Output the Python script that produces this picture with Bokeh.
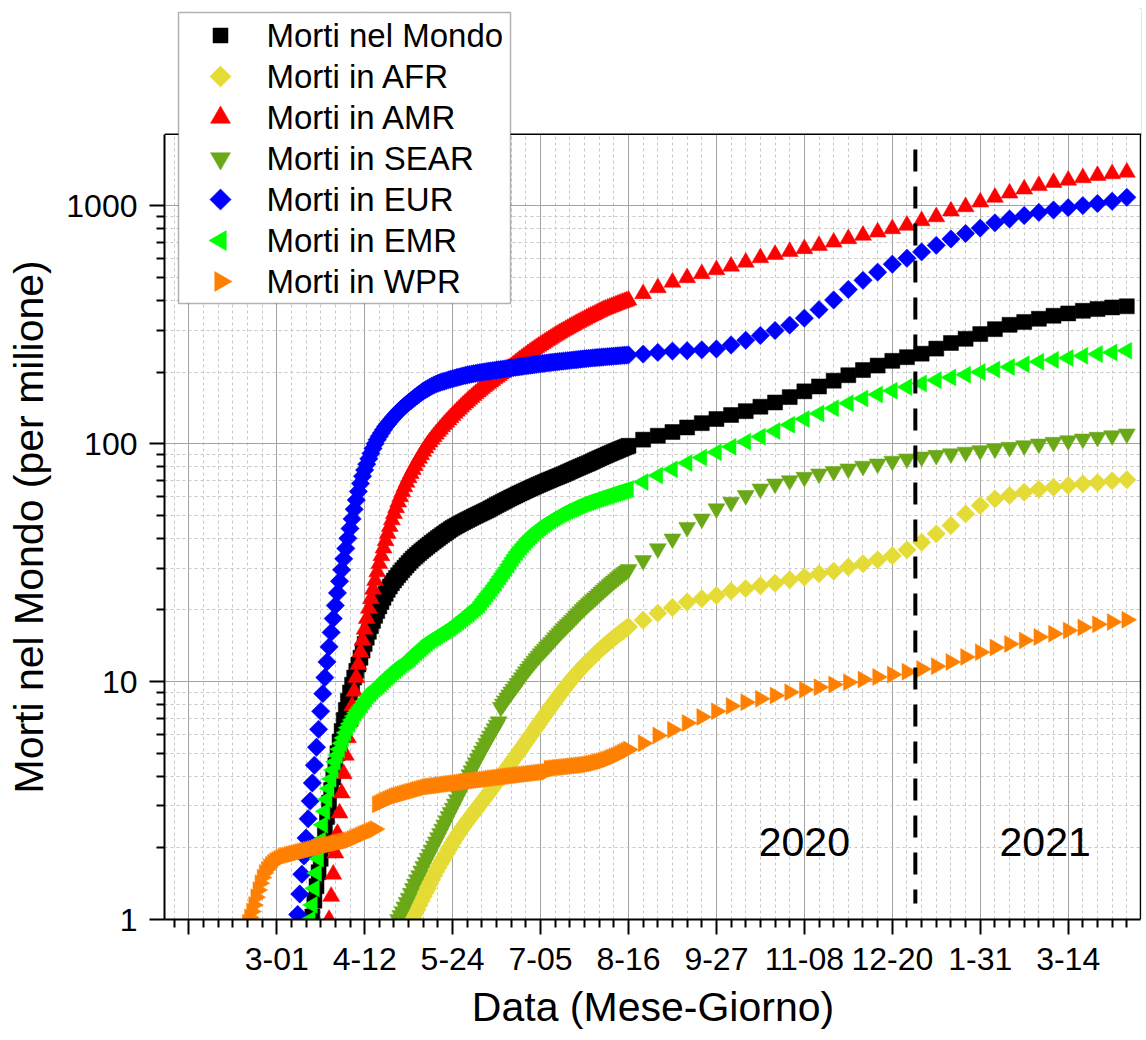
import numpy as np
import pandas as pd
from bokeh.plotting import figure
from bokeh.models import (ColumnDataSource, Range1d, FixedTicker, Label, Span,
                          BoxAnnotation, Title, LogAxis)
from bokeh.embed import file_html
from bokeh.resources import INLINE

EPOCH = "2020-01-01"

# ---- daily values (deaths per million), one per day, until 2020-08-16 ----
WORLD_DAILY_START = "2020-03-17"
WORLD_DAILY = [
    0.92, 1.03, 1.2, 1.38, 1.58, 1.8, 2.05, 2.35, 2.7, 3.1,
    3.5, 3.95, 4.45, 5.0, 5.6, 6.2, 6.9, 7.6, 8.3, 9.0,
    9.7, 10.4, 11.1, 11.8, 12.6, 13.5, 14.4, 15.3, 16.2, 17.1,
    18.0, 18.9, 19.8, 20.7, 21.6, 22.5, 23.4, 24.3, 25.1, 25.9,
    26.6, 27.3, 28.0, 28.7, 29.4, 30.1, 30.8, 31.5, 32.2, 32.9,
    33.5, 34.1, 34.7, 35.3, 35.9, 36.5, 37.1, 37.7, 38.3, 38.9,
    39.5, 40.1, 40.7, 41.3, 41.9, 42.5, 43.1, 43.7, 44.3, 44.8,
    45.3, 45.8, 46.3, 46.8, 47.3, 47.8, 48.3, 48.8, 49.3, 49.8,
    50.3, 50.8, 51.3, 51.8, 52.3, 52.8, 53.4, 54.0, 54.6, 55.2,
    55.8, 56.4, 57.0, 57.6, 58.2, 58.8, 59.4, 60.0, 60.6, 61.2,
    61.8, 62.4, 63.0, 63.6, 64.2, 64.8, 65.4, 66.0, 66.6, 67.2,
    67.8, 68.4, 69.0, 69.6, 70.2, 70.8, 71.4, 72.0, 72.6, 73.2,
    73.8, 74.4, 75.1, 75.8, 76.5, 77.2, 77.9, 78.6, 79.3, 80.0,
    80.7, 81.4, 82.1, 82.8, 83.6, 84.4, 85.2, 86.0, 86.8, 87.6,
    88.4, 89.2, 90.0, 90.8, 91.6, 92.4, 93.2, 94.0, 94.8, 95.6,
    96.4, 97.2, 98.0]

AFR_DAILY_START = "2020-05-02"
AFR_DAILY = [
    0.9, 0.94, 0.98, 1.02, 1.06, 1.1, 1.15, 1.2, 1.25, 1.3,
    1.35, 1.41, 1.47, 1.53, 1.59, 1.65, 1.71, 1.77, 1.83, 1.89,
    1.96, 2.03, 2.1, 2.17, 2.24, 2.31, 2.38, 2.45, 2.52, 2.59,
    2.66, 2.73, 2.8, 2.88, 2.96, 3.04, 3.12, 3.2, 3.29, 3.38,
    3.47, 3.57, 3.67, 3.77, 3.88, 3.99, 4.1, 4.21, 4.33, 4.45,
    4.57, 4.7, 4.83, 4.97, 5.11, 5.26, 5.41, 5.57, 5.73, 5.9,
    6.07, 6.25, 6.43, 6.62, 6.81, 7.01, 7.21, 7.42, 7.63, 7.85,
    8.07, 8.3, 8.53, 8.77, 9.01, 9.25, 9.5, 9.75, 10.0, 10.25,
    10.5, 10.75, 11.0, 11.25, 11.5, 11.75, 12.0, 12.25, 12.5, 12.75,
    13.0, 13.25, 13.5, 13.75, 14.0, 14.25, 14.5, 14.75, 15.0, 15.25,
    15.5, 15.75, 16.0, 16.25, 16.5, 16.75, 17.0]

AMR_DAILY_START = "2020-03-25"
AMR_DAILY = [
    0.82, 1.0, 1.25, 1.55, 1.9, 2.3, 2.8, 3.4, 4.1, 4.9,
    5.8, 6.8, 7.9, 9.1, 10.4, 11.8, 13.3, 14.9, 16.6, 18.4,
    20.3, 22.3, 24.4, 26.6, 28.9, 31.3, 33.8, 36.4, 39.1, 41.9,
    44.8, 47.8, 50.8, 53.8, 56.8, 59.8, 62.8, 65.8, 68.8, 71.8,
    74.8, 77.8, 80.8, 83.8, 86.8, 89.8, 92.8, 95.8, 98.8, 101.5,
    104.2, 106.9, 109.6, 112.3, 115.0, 117.7, 120.4, 123.1, 125.8, 128.5,
    131.2, 134.0, 136.8, 139.6, 142.4, 145.2, 148.0, 150.8, 153.6, 156.4,
    159.2, 162.0, 164.8, 167.6, 170.4, 173.2, 176.0, 178.8, 181.6, 184.4,
    187.2, 190.0, 193.0, 196.0, 199.0, 202.0, 205.0, 208.0, 211.0, 214.5,
    218.0, 221.5, 225.0, 228.5, 232.0, 235.5, 239.0, 242.5, 246.0, 249.5,
    253.0, 256.5, 260.0, 263.5, 267.0, 270.5, 274.0, 277.5, 281.0, 284.5,
    288.0, 291.5, 295.0, 298.5, 302.0, 305.5, 309.0, 312.5, 316.0, 319.5,
    323.0, 326.5, 330.0, 333.5, 337.0, 340.5, 344.0, 347.5, 351.0, 354.5,
    358.0, 361.5, 365.0, 368.0, 371.0, 374.0, 377.0, 380.0, 383.0, 386.0,
    389.0, 392.0, 395.0, 398.0, 401.0]

SEAR_DAILY_START = "2020-04-26"
SEAR_DAILY = [
    0.85, 0.92, 1.0, 1.04, 1.08, 1.13, 1.18, 1.23, 1.29, 1.35,
    1.41, 1.47, 1.53, 1.6, 1.67, 1.74, 1.81, 1.88, 1.96, 2.04,
    2.12, 2.21, 2.3, 2.4, 2.5, 2.6, 2.71, 2.82, 2.94, 3.06,
    3.19, 3.32, 3.46, 3.6, 3.75, 3.9, 4.06, 4.22, 4.39, 4.56,
    4.74, 4.92, 5.11, 5.3, 5.5, 5.7, 5.91, 6.12, 6.34, 6.56,
    6.78, 7.8, 8.05, 8.3, 8.55, 8.8, 9.05, 9.3, 9.56, 9.82,
    10.1, 10.4, 10.7, 11.0, 11.3, 11.6, 11.9, 12.2, 12.5, 12.8,
    13.1, 13.4, 13.7, 14.0, 14.3, 14.6, 14.95, 15.3, 15.65, 16.0,
    16.35, 16.7, 17.05, 17.4, 17.75, 18.1, 18.5, 18.9, 19.3, 19.7,
    20.1, 20.5, 20.9, 21.3, 21.7, 22.1, 22.5, 22.9, 23.35, 23.8,
    24.25, 24.7, 25.15, 25.6, 26.05, 26.5, 26.95, 27.4, 27.85, 28.3,
    28.75, 29.2, 29.65]

EUR_DAILY_START = "2020-03-10"
EUR_DAILY = [
    0.85, 1.05, 1.28, 1.55, 1.85, 2.2, 2.65, 3.15, 3.75, 4.45,
    5.3, 6.3, 7.5, 8.9, 10.4, 12.1, 14.0, 16.1, 18.4, 20.9,
    23.6, 26.4, 29.5, 32.8, 36.3, 40.0, 44.0, 48.3, 53.0, 58.0,
    63.0, 68.0, 73.0, 77.5, 82.0, 86.5, 91.0, 95.5, 100.0, 104.0,
    107.5, 111.0, 114.5, 118.0, 121.0, 124.0, 127.0, 130.0, 133.0, 136.0,
    139.0, 141.5, 144.0, 146.5, 149.0, 151.5, 154.0, 156.5, 159.0, 161.5,
    164.0, 166.5, 168.5, 170.5, 172.5, 174.5, 176.3, 178.0, 179.5, 180.8,
    182.0, 183.0, 184.2, 185.4, 186.5, 187.6, 188.7, 189.7, 190.7, 191.7,
    192.7, 193.6, 194.5, 195.3, 196.1, 196.9, 197.6, 198.3, 199.0, 199.7,
    200.4, 201.0, 201.6, 202.2, 202.8, 203.4, 204.0, 204.6, 205.2, 205.8,
    206.4, 207.0, 207.6, 208.2, 208.8, 209.4, 210.0, 210.6, 211.2, 211.8,
    212.4, 213.0, 213.6, 214.2, 214.8, 215.4, 216.0, 216.6, 217.2, 217.8,
    218.4, 219.0, 219.5, 220.0, 220.5, 221.0, 221.5, 222.0, 222.5, 223.0,
    223.5, 224.0, 224.5, 225.0, 225.5, 226.0, 226.5, 227.0, 227.5, 228.0,
    228.5, 229.0, 229.4, 229.8, 230.2, 230.6, 231.0, 231.4, 231.8, 232.2,
    232.6, 233.0, 233.4, 233.8, 234.2, 234.6, 235.0, 235.4, 235.8, 236.2]

EMR_DAILY_START = "2020-03-17"
EMR_DAILY = [
    1.0, 1.15, 1.35, 1.57, 1.8, 2.15, 2.5, 2.85, 3.2, 3.55,
    3.9, 4.25, 4.6, 4.9, 5.2, 5.5, 5.8, 6.1, 6.4, 6.65,
    6.9, 7.15, 7.4, 7.6, 7.8, 8.0, 8.25, 8.45, 8.7, 8.9,
    9.1, 9.3, 9.45, 9.6, 9.8, 10.0, 10.2, 10.4, 10.6, 10.8,
    11.0, 11.2, 11.4, 11.6, 11.8, 12.0, 12.15, 12.3, 12.5, 12.75,
    13.0, 13.25, 13.5, 13.75, 14.0, 14.25, 14.5, 14.8, 15.0, 15.2,
    15.4, 15.6, 15.8, 16.0, 16.2, 16.4, 16.6, 16.8, 17.05, 17.3,
    17.5, 17.8, 18.1, 18.4, 18.7, 19.0, 19.3, 19.65, 20.0, 20.35,
    20.7, 21.0, 21.6, 22.2, 22.8, 23.4, 24.0, 24.6, 25.3, 26.0,
    26.8, 27.6, 28.4, 29.2, 30.0, 31.0, 32.0, 33.0, 34.0, 35.0,
    35.9, 36.8, 37.7, 38.6, 39.5, 40.3, 41.1, 41.9, 42.7, 43.5,
    44.2, 44.9, 45.6, 46.3, 47.0, 47.6, 48.2, 48.8, 49.4, 50.0,
    50.6, 51.1, 51.6, 52.1, 52.6, 53.1, 53.6, 54.1, 54.6, 55.1,
    55.5, 55.9, 56.3, 56.7, 57.1, 57.5, 57.9, 58.3, 58.7, 59.1,
    59.5, 59.9, 60.3, 60.7, 61.1, 61.5, 61.9, 62.3, 62.7, 63.1,
    63.5, 63.9, 64.3]

WPR_DAILY_START = "2020-02-16"
WPR_DAILY = [
    0.97, 1.02, 1.08, 1.15, 1.24, 1.33, 1.42, 1.5, 1.57, 1.62,
    1.66, 1.7, 1.73, 1.76, 1.78, 1.8, 1.82, 1.84, 1.85, 1.86,
    1.87, 1.88, 1.89, 1.9, 1.91, 1.92, 1.93, 1.94, 1.95, 1.96,
    1.97, 1.98, 1.99, 2.0, 2.01, 2.02, 2.03, 2.04, 2.05, 2.06,
    2.07, 2.08, 2.09, 2.1, 2.11, 2.12, 2.13, 2.14, 2.15, 2.16,
    2.18, 2.2, 2.22, 2.24, 2.26, 2.28, 2.3, 2.32, 2.34, 2.36,
    2.38, 2.4, 3.05, 3.08, 3.11, 3.14, 3.17, 3.2, 3.23, 3.26,
    3.29, 3.31, 3.33, 3.35, 3.37, 3.39, 3.41, 3.43, 3.45, 3.47,
    3.49, 3.51, 3.53, 3.55, 3.57, 3.59, 3.61, 3.62, 3.63, 3.64,
    3.65, 3.66, 3.67, 3.68, 3.69, 3.7, 3.71, 3.72, 3.73, 3.74,
    3.75, 3.76, 3.77, 3.78, 3.79, 3.8, 3.81, 3.82, 3.83, 3.84,
    3.85, 3.86, 3.87, 3.88, 3.89, 3.9, 3.91, 3.92, 3.93, 3.94,
    3.95, 3.96, 3.97, 3.98, 3.99, 4.0, 4.01, 4.02, 4.03, 4.04,
    4.05, 4.06, 4.07, 4.08, 4.09, 4.1, 4.11, 4.12, 4.13, 4.14,
    4.15, 4.16, 4.17, 4.18, 4.3, 4.31, 4.32, 4.33, 4.34, 4.35,
    4.36, 4.37, 4.38, 4.39, 4.4, 4.41, 4.42, 4.43, 4.44, 4.45,
    4.46, 4.47, 4.48, 4.5, 4.52, 4.54, 4.56, 4.58, 4.6, 4.63,
    4.66, 4.69, 4.72, 4.76, 4.8, 4.84, 4.88, 4.93, 4.98, 5.03,
    5.08, 5.13, 5.18]

# ---- weekly values from 2020-08-23 to 2021-04-11 ----
WEEKLY_START = "2020-08-23"
WORLD_WEEKLY = [104, 108, 112, 117, 122, 127, 132, 137, 143, 149, 157, 166, 174, 184,
                194, 204, 213, 223, 231, 239, 251, 265, 276, 289, 303, 316, 325, 335,
                345, 353, 362, 368, 374, 378]
AFR_WEEKLY = [18.1, 19.4, 20.5, 21.6, 22.3, 23.0, 24.0, 24.6, 25.3, 25.9, 26.8, 27.5,
              28.4, 29.1, 30.3, 31.3, 32.5, 33.8, 35.8, 38.5, 41.8, 45.3, 50.7, 55.0,
              58.6, 60.6, 62.5, 64.3, 65.6, 66.7, 67.8, 68.5, 69.8, 70.5]
AMR_WEEKLY = [427, 452, 477, 498, 518, 538, 557, 579, 604, 624, 642, 660, 681, 703,
              727, 751, 775, 800, 827, 865, 898, 950, 990, 1036, 1085, 1130, 1175,
              1215, 1252, 1280, 1310, 1340, 1362, 1384]
SEAR_WEEKLY = [32.3, 36.2, 39.8, 44.5, 48.3, 53.3, 56.8, 60.6, 64.6, 67.8, 70.0, 72.3,
               74.7, 76.5, 78.4, 80.5, 82.3, 84.5, 86.4, 88.0, 89.4, 90.8, 92.2, 93.6,
               95.1, 96.6, 98.2, 99.8, 101.4, 103.0, 104.8, 106.5, 108.2, 110.0]
EUR_WEEKLY = [238, 242, 245, 246, 248, 250, 260, 272, 285, 299, 315, 337, 366, 402,
              445, 486, 526, 568, 602, 640, 682, 725, 765, 806, 848, 880, 910, 938,
              960, 982, 1002, 1022, 1045, 1085]
EMR_WEEKLY = [69, 73.5, 78, 83, 87.5, 92, 97, 102, 107, 113, 120, 127, 134, 141, 148,
              155, 161, 167, 173, 179, 185, 190, 195, 200, 205, 210, 216, 221, 225,
              229, 234, 238, 242, 246]
WPR_WEEKLY = [5.5, 5.93, 6.27, 6.7, 7.1, 7.5, 7.9, 8.19, 8.47, 8.74, 9.03, 9.24, 9.47,
              9.72, 9.94, 10.2, 10.45, 10.7, 11.0, 11.3, 11.6, 12.1, 12.7, 13.3, 13.9,
              14.4, 14.9, 15.4, 15.9, 16.4, 16.9, 17.4, 17.8, 18.2]

SERIES_NAMES = ["Morti nel Mondo", "Morti in AFR", "Morti in AMR", "Morti in SEAR",
                "Morti in EUR", "Morti in EMR", "Morti in WPR"]

X_TICK_DATES = ["2020-01-19", "2020-03-01", "2020-04-12", "2020-05-24", "2020-07-05",
                "2020-08-16", "2020-09-27", "2020-11-08", "2020-12-20", "2021-01-31",
                "2021-03-14"]
X_TICK_LABELS = ["", "3-01", "4-12", "5-24", "7-05", "8-16", "9-27", "11-08", "12-20",
                 "1-31", "3-14"]
Y_TICKS = [1, 10, 100, 1000]
Y_TICK_LABELS = ["1", "10", "100", "1000"]
Y_TOP = 2000

X_LABEL = "Data (Mese-Giorno)"
Y_LABEL = "Morti nel Mondo (per milione)"

YEAR_SPLIT_DATE = "2020-12-31"
YEAR_LABELS = ["2020", "2021"]
YEAR_LABEL_DATES = ["2020-11-08", "2021-03-03"]
YEAR_LABEL_VALUE = 2.11


def day(s):
    return (pd.Timestamp(s) - pd.Timestamp(EPOCH)).days


# ---- page layout (pixels) ----
FONT = "Liberation Sans"
FIG_W, FIG_H = 1146, 1040
FRAME_LEFT, FRAME_RIGHT, FRAME_TOP, FRAME_BOTTOM = 164, 1141, 8, 919
PLOT_RIGHT = 1140
PX_PER_DAY = 2.0938
PX_PER_DECADE = 237.9
X_START = 6.4


def xd(px):
    return X_START + (px - FRAME_LEFT) / PX_PER_DAY


def yd(py):
    return 10 ** ((FRAME_BOTTOM - py) / PX_PER_DECADE)


X_END = xd(PLOT_RIGHT)

p = figure(width=FIG_W, height=FIG_H, y_axis_type="log",
           x_range=Range1d(X_START, xd(FRAME_RIGHT)), y_range=Range1d(1, yd(FRAME_TOP)),
           output_backend="svg", toolbar_location=None,
           min_border_left=FRAME_LEFT, min_border_right=FIG_W - FRAME_RIGHT,
           min_border_top=FRAME_TOP, min_border_bottom=FIG_H - FRAME_BOTTOM)
p.background_fill_color = "white"
p.border_fill_color = "white"
p.outline_line_color = None

# ticks
major_days = [day(d) for d in X_TICK_DATES]
minor_days = [d for d in range(major_days[0] - 7, int(X_END) + 1, 7) if d not in major_days]
p.xaxis.ticker = FixedTicker(ticks=major_days, minor_ticks=minor_days)
p.xaxis.major_label_overrides = {int(d): lab for d, lab in zip(major_days, X_TICK_LABELS)}
p.xaxis.bounds = (X_START, X_END)

y_minor = [m * 10 ** e for e in range(0, 3) for m in range(2, 10)]
p.yaxis.ticker = FixedTicker(ticks=Y_TICKS, minor_ticks=y_minor)
p.yaxis.major_label_overrides = {t: lab for t, lab in zip(Y_TICKS, Y_TICK_LABELS)}
p.yaxis.bounds = (1, Y_TOP)

for ax in (p.xaxis, p.yaxis):
    ax.axis_line_width = 2
    ax.axis_line_color = "black"
    ax.major_tick_line_width = 2
    ax.minor_tick_line_width = 2
    ax.major_tick_out = 15
    ax.major_tick_in = 0
    ax.minor_tick_out = 8
    ax.minor_tick_in = 0
    ax.major_label_text_font = FONT
    ax.major_label_text_font_size = "32px"
    ax.major_label_text_color = "black"
    ax.axis_label_text_font = FONT
    ax.axis_label_text_font_size = "41px"
    ax.axis_label_text_font_style = "normal"
    ax.axis_label_text_color = "black"

p.xaxis.axis_label = X_LABEL
p.xaxis.major_label_standoff = 13
p.xaxis.axis_label_standoff = 11
p.yaxis.major_label_standoff = 12

# blank spacer between the tick labels and the y label (invisible tick, empty label)
spacer = LogAxis(ticker=FixedTicker(ticks=[10]), major_label_overrides={10: ""},
                 major_tick_out=12, major_tick_in=0, minor_tick_out=0, minor_tick_in=0,
                 major_label_standoff=0, axis_line_color=None,
                 major_tick_line_color=None, minor_tick_line_color=None,
                 major_label_text_font=FONT, major_label_text_font_size="32px")
p.add_layout(spacer, "left")

# y label as a left title, so it can sit centred on the visible plot box
p.add_layout(Title(text=Y_LABEL, align="left", offset=126, vertical_align="bottom",
                   standoff=0, text_font=FONT, text_font_size="41px",
                   text_font_style="normal", text_color="black"), "left")

for g in (p.xgrid, p.ygrid):
    g.grid_line_color = "#a3a3a3"
    g.grid_line_width = 1
    g.minor_grid_line_color = "#c8c8c8"
    g.minor_grid_line_width = 1
    g.minor_grid_line_dash = "3 3"

# plot box: right border, blank area above the box, top border
p.add_layout(Span(location=X_END, dimension="height", line_color="black",
                  line_width=1.5, level="underlay"))
p.add_layout(BoxAnnotation(bottom=Y_TOP, fill_color="white", fill_alpha=1.0,
                           line_color=None, level="underlay"))
p.add_layout(Span(location=Y_TOP, dimension="width", line_color="black",
                  line_width=1.5, level="underlay"))

# series
styles = [
    ("#000000", "square", 0.0, 15, 15),
    ("#e5db36", "square", np.pi / 4, 13, 15),
    ("#ff0000", "triangle", 0.0, 17, 20),
    ("#6aa818", "inverted_triangle", 0.0, 17, 20),
    ("#0000ff", "square", np.pi / 4, 13, 15),
    ("#00ff00", "triangle", np.pi / 2, 17, 20),
    ("#ff8000", "triangle", -np.pi / 2, 17, 20),
]
daily = [(WORLD_DAILY_START, WORLD_DAILY), (AFR_DAILY_START, AFR_DAILY),
         (AMR_DAILY_START, AMR_DAILY), (SEAR_DAILY_START, SEAR_DAILY),
         (EUR_DAILY_START, EUR_DAILY), (EMR_DAILY_START, EMR_DAILY),
         (WPR_DAILY_START, WPR_DAILY)]
weekly = [WORLD_WEEKLY, AFR_WEEKLY, AMR_WEEKLY, SEAR_WEEKLY, EUR_WEEKLY, EMR_WEEKLY, WPR_WEEKLY]

w0 = day(WEEKLY_START)
for (color, marker, angle, size, _), (start, dvals), wvals in zip(styles, daily, weekly):
    d0 = day(start)
    xs = np.concatenate([d0 + np.arange(len(dvals)), w0 + 7 * np.arange(len(wvals))])
    ys = np.concatenate([np.array(dvals, float), np.array(wvals, float)])
    src = ColumnDataSource(dict(x=xs, y=ys))
    p.scatter("x", "y", source=src, marker=marker, size=size, angle=angle,
              fill_color=color, line_color=color, line_width=0.5)

# year separator and year labels
xs_split = day(YEAR_SPLIT_DATE)
p.segment(x0=[xs_split], y0=[yd(149)], x1=[xs_split], y1=[yd(903)],
          line_color="black", line_width=4, line_dash="22 15")
for txt, d in zip(YEAR_LABELS, YEAR_LABEL_DATES):
    p.add_layout(Label(x=day(d), y=YEAR_LABEL_VALUE, text=txt, text_align="center",
                       text_baseline="alphabetic", text_font=FONT, text_font_size="41px",
                       text_color="black"))

# legend (box, samples and labels), overlapping the top edge of the plot box
LEG_LEFT, LEG_RIGHT, LEG_TOP, LEG_BOTTOM = 178, 510, 12, 303
LEG_ROWS = [35, 76, 117, 158, 199, 240, 281]
LEG_MARK_X, LEG_TEXT_X = 220, 266
p.add_layout(BoxAnnotation(left=xd(LEG_LEFT), right=xd(LEG_RIGHT), top=yd(LEG_TOP),
                           bottom=yd(LEG_BOTTOM), fill_color="white", fill_alpha=1.0,
                           line_color="black", line_width=1.5, level="underlay"))
for name, (color, marker, angle, _, lsize), row in zip(SERIES_NAMES, styles, LEG_ROWS):
    p.scatter(x=[xd(LEG_MARK_X)], y=[yd(row)], marker=marker, size=lsize, angle=angle,
              fill_color=color, line_color=color, line_width=0.5)
    p.add_layout(Label(x=xd(LEG_TEXT_X), y=yd(row), text=name, text_align="left",
                       text_baseline="middle", text_font=FONT, text_font_size="33px",
                       text_color="black"))

open("out.html", "w").write(file_html(p, INLINE))
